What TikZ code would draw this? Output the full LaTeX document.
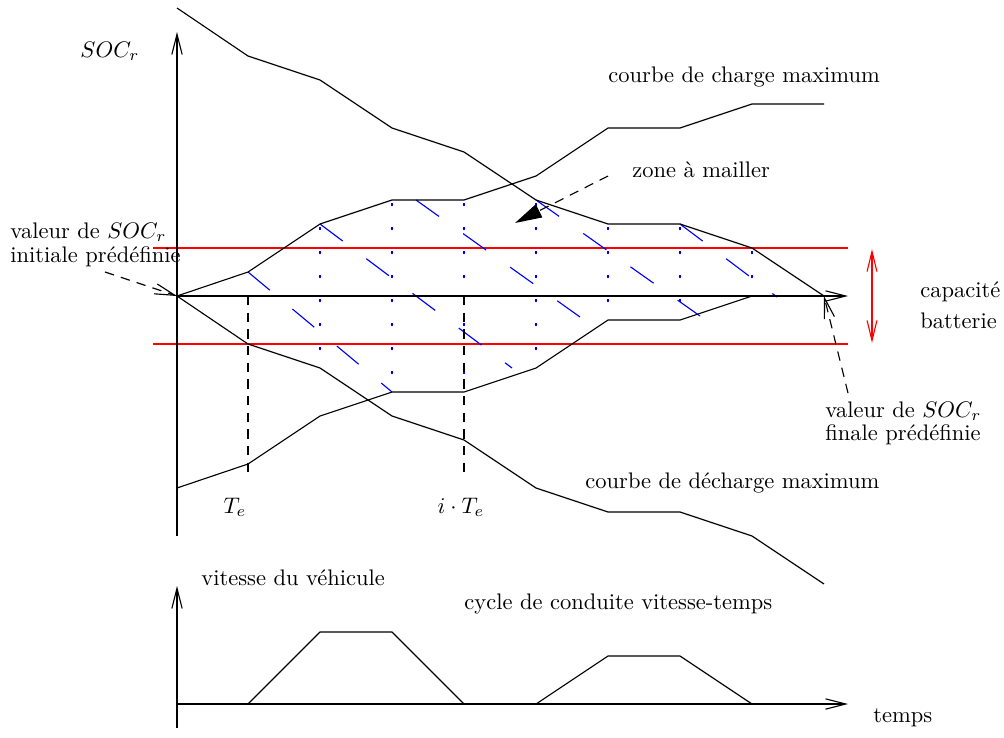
\documentclass[tikz,border=0pt]{standalone}
\usepackage{fontspec}
\usepackage{amsmath}
\usetikzlibrary{arrows.meta}
\tikzset{
  courbe/.style={line width=0.5pt, line join=round},
  borne/.style={red, line width=0.5pt},
  maille/.style={blue, line width=0.5pt, dash pattern=on 12.6pt off 13.1pt},
  pointille/.style={blue, line width=0.6pt},
  repere/.style={line width=0.5pt, dash pattern=on 4.2pt off 3.2pt},
  fleche/.style={-{Straight Barb[length=9pt,width=4.6pt]}},
  etiquette/.style={inner sep=0pt}
}
\begin{document}
\begin{tikzpicture}[x=0.4444pt, y=-0.4444pt]
  \useasboundingbox (0,0) rectangle (1004,737);
  \coordinate (O) at (177,296);
  \coordinate (F) at (824,296);
  \coordinate (initdep) at (105,272);
  \coordinate (findep) at (848,393);
  \coordinate (zonedep) at (608,176);
  \coordinate (zonept) at (515,223);
  % capacite batterie
  \draw[borne] (153,248) -- (848,248);
  \draw[borne] (153,344) -- (848,344);
  \draw[borne, {Straight Barb[length=9pt,width=4.4pt]}-{Straight Barb[length=9pt,width=4.4pt]}] (872,249) -- (872,343);
  % maillage
  \foreach \x/\yi/\n in {320/228/5, 392/204/7, 464/204/7, 536/204/6, 608/228/3, 680/228/3, 752/252/1}
    \foreach \k in {0,...,\n}
      \draw[pointille] (\x,\yi+24*\k-1) -- ++(0,2.5);
  \draw[maille] (248,272) -- (392,392);
  \draw[maille] (320,224) -- (512,368);
  \draw[maille] (416,200) -- (580,317);
  \draw[maille] (536,200) -- (700,316);
  \draw[maille] (680,224) -- (777,297);
  % courbes
  \draw[courbe] (177,8) -- (248,56) -- (320,80) -- (392,128) -- (464,152) -- (536,200)
    -- (608,224) -- (680,224) -- (752,248) -- (F);
  \draw[courbe] (O) -- (248,272) -- (320,224) -- (392,200) -- (464,200) -- (536,176)
    -- (608,128) -- (680,128) -- (752,104) -- (824,104);
  \draw[courbe] (O) -- (248,344) -- (320,368) -- (392,416) -- (464,440) -- (536,488)
    -- (608,512) -- (680,512) -- (752,536) -- (824,584);
  \draw[courbe] (177,488) -- (248,464) -- (320,416) -- (392,392) -- (464,392) -- (536,368)
    -- (608,320) -- (680,320) -- (752,296) -- (F);
  \draw[repere] (248,296) -- (248,478);
  \draw[repere] (464,296) -- (464,478);
  % axes
  \draw[courbe, fleche] (177,536) -- (177,32);
  \draw[courbe, fleche] (O) -- (848,296);
  \draw[repere, fleche] (initdep) -- (O);
  \draw[repere, fleche] (findep) -- (F);
  \draw[repere, -{Triangle[length=12pt,width=6.4pt]}] (zonedep) -- (zonept);
  % textes
  \node[etiquette, anchor=base west] (soclbl) at (80,57) {$SOC_r$};
  \node[etiquette, anchor=base west] (chargelbl) at (608,82) {courbe de charge maximum};
  \node[etiquette, anchor=base west] (zonelbl) at (632,177) {zone à mailler};
  \node[etiquette, anchor=north west, align=left] (initlbl) at (10,222) {valeur de $SOC_r$\\[-1.3pt]initiale prédéfinie};
  \node[etiquette, anchor=north west, align=left] (caplbl) at (920,281) {capacité\\[1.8pt]batterie};
  \node[etiquette, anchor=north west, align=left] (finlbl) at (825,401) {valeur de $SOC_r$\\[-1.6pt]finale prédéfinie};
  \node[etiquette, anchor=base west] (dechlbl) at (585,488) {courbe de décharge maximum};
  \node[etiquette, anchor=base] (telbl) at (235,513) {$T_e$};
  \node[etiquette, anchor=base] (itelbl) at (461,513) {$i\cdot T_e$};
  % cycle de conduite
  \coordinate (V) at (177,704);
  \draw[courbe, fleche] (177,728) -- (177,586);
  \draw[courbe, fleche] (V) -- (848,704);
  \draw[courbe] (V) -- (248,704) -- (320,632) -- (392,632) -- (464,704) -- (536,704)
    -- (608,656) -- (680,656) -- (752,704);
  \node[etiquette, anchor=base west] (vitlbl) at (201,585) {vitesse du véhicule};
  \node[etiquette, anchor=base west] (cyclbl) at (464,609) {cycle de conduite vitesse-temps};
  \node[etiquette, anchor=base west] (tpslbl) at (873,722) {temps};
\end{tikzpicture}
\end{document}
